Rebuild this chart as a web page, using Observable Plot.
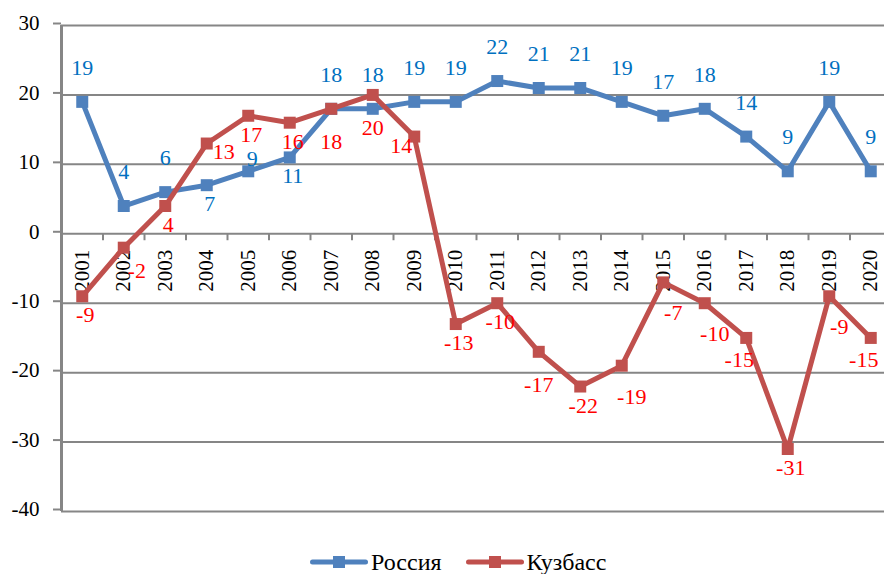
<!DOCTYPE html>
<html>
<head>
<meta charset="utf-8">
<script src="https://cdn.jsdelivr.net/npm/d3@7"></script>
<script src="https://cdn.jsdelivr.net/npm/@observablehq/plot@0.6"></script>
<style>
  html, body { margin: 0; padding: 0; background: #fff; overflow: hidden; }
  #chart svg { display: block; }
  .legend { display: flex; align-items: center; margin-top: 18px; padding-left: 310px;
            font-family: "Liberation Serif", serif; font-size: 24px; line-height: 28px; color: #000; }
  .legend .item { display: flex; align-items: center; }
  .legend .item + .item { margin-left: 24px; }
  .legend svg { display: block; margin-right: 3px; }
</style>
</head>
<body>
<div id="chart"></div>
<div class="legend" id="legend"></div>
<script>
const years = [2001, 2002, 2003, 2004, 2005, 2006, 2007, 2008, 2009, 2010,
               2011, 2012, 2013, 2014, 2015, 2016, 2017, 2018, 2019, 2020];
const russia  = [19, 4, 6, 7, 9, 11, 18, 18, 19, 19, 22, 21, 21, 19, 17, 18, 14, 9, 19, 9];
const kuzbass = [-9, -2, 4, 13, 17, 16, 18, 20, 14, -13, -10, -17, -22, -19, -7, -10, -15, -31, -9, -15];
const seriesNames = ["Россия", "Кузбасс"];
const yTicks = [-40, -30, -20, -10, 0, 10, 20, 30];
// label placement codes (relative to the marker)
const russiaLabelPos  = ["a","a","a","b","ar","b","a","a","a","a","a","a","a","a","a","a","a","a","a","a"];
const kuzbassLabelPos = ["b","br","b","r","b","b","b2","b2","l","b","b","b2","b","b2r","b2r","b2r","bl","b","b2r","bl"];

const placements = {
  a:   {dx: 0,   dy: -34},
  b:   {dx: 3,   dy: 19},
  ar:  {dx: 4,   dy: -12},
  b2:  {dx: 0,   dy: 33},
  br:  {dx: 13,  dy: 23},
  r:   {dx: 17,  dy: 8},
  l:   {dx: -13, dy: 9},
  b2r: {dx: 10,  dy: 31},
  bl:  {dx: -7,  dy: 22}
};

const colors = {line: ["#4F81BD", "#C0504D"], label: ["#0070C0", "#FF0000"]};

const rowsR = years.map((year, i) => ({year, value: russia[i], pos: russiaLabelPos[i]}));
const rowsK = years.map((year, i) => ({year, value: kuzbass[i], pos: kuzbassLabelPos[i]}));
const xDomain = [years[0] - 0.5, years[years.length - 1] + 0.5];

function labelMarks(rows, color) {
  return Object.entries(placements).map(([code, p]) =>
    Plot.text(rows.filter(d => d.pos === code), {
      x: "year", y: "value", text: d => String(d.value),
      dx: p.dx, dy: p.dy, fill: color, fontSize: 22
    }));
}

const squareR = 12 / Math.sqrt(Math.PI);

const chart = Plot.plot({
  width: 884,
  height: 530,
  marginLeft: 61,
  marginRight: 0,
  marginTop: 25,
  marginBottom: 19,
  style: {fontFamily: "Liberation Serif, serif", background: "#fff", overflow: "visible"},
  x: {type: "linear", domain: xDomain, range: [61, 891], axis: null, label: null},
  y: {domain: [yTicks[0], yTicks[yTicks.length - 1]], label: null},
  marks: [
    Plot.ruleY(yTicks, {stroke: "#868686", strokeWidth: 2}),
    Plot.ruleX(years, {x: d => d + 0.5, y1: 0, y2: -1, stroke: "#868686", strokeWidth: 2}),
    Plot.ruleX([xDomain[0]], {y1: yTicks[0], y2: yTicks[yTicks.length - 1], stroke: "#868686", strokeWidth: 3}),
    Plot.axisY({ticks: yTicks, tickSize: 8, tickPadding: 14, tickFormat: d => String(d), label: null,
                fontSize: 21, stroke: "#868686", strokeWidth: 2, fill: "#000", dy: -2}),
    Plot.text(years, {x: d => d, y: () => 0, text: d => String(d), rotate: -90,
                      textAnchor: "end", dy: 16, fontSize: 21, fill: "#000"}),
    Plot.line(rowsR, {x: "year", y: "value", stroke: colors.line[0], strokeWidth: 5, strokeLinejoin: "round"}),
    Plot.dot(rowsR, {x: "year", y: "value", symbol: "square", r: squareR, fill: colors.line[0], stroke: "none"}),
    Plot.line(rowsK, {x: "year", y: "value", stroke: colors.line[1], strokeWidth: 5, strokeLinejoin: "round"}),
    Plot.dot(rowsK, {x: "year", y: "value", symbol: "square", r: squareR, fill: colors.line[1], stroke: "none"}),
    ...labelMarks(rowsR, colors.label[0]),
    ...labelMarks(rowsK, colors.label[1])
  ]
});
document.getElementById("chart").appendChild(chart);

const legend = document.getElementById("legend");
seriesNames.forEach((name, i) => {
  const item = document.createElement("div");
  item.className = "item";
  item.innerHTML = `<svg width="58" height="14" viewBox="0 0 58 14">
      <line x1="2.5" y1="7" x2="55.5" y2="7" stroke="${colors.line[i]}" stroke-width="5" stroke-linecap="round"/>
      <rect x="23" y="1" width="12" height="12" fill="${colors.line[i]}"/>
    </svg><span>${name}</span>`;
  legend.appendChild(item);
});
</script>
</body>
</html>
